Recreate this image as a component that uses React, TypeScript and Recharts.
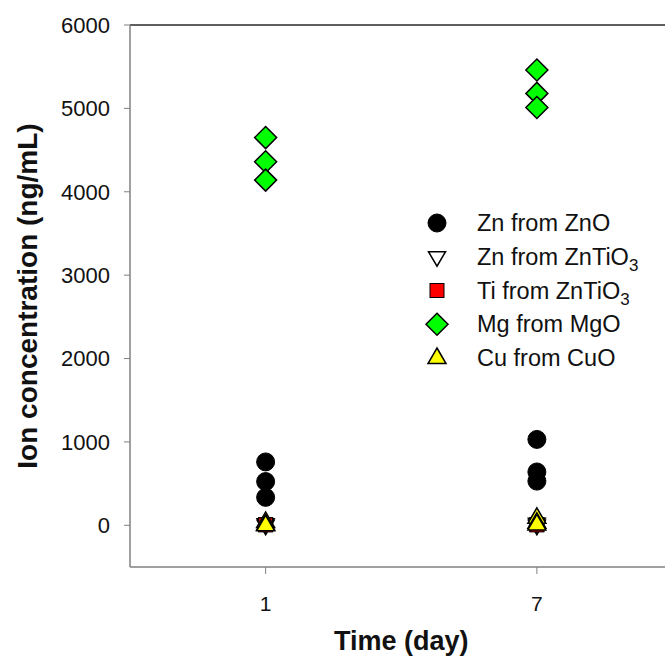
import React from 'react';
import { ScatterChart, Scatter, XAxis, YAxis, ReferenceLine, Legend } from 'recharts';

// ---- data ----
const days = [1, 7];
const yTicks = [0, 1000, 2000, 3000, 4000, 5000, 6000];

const znFromZnO_day1 = [760, 525, 335];
const znFromZnO_day7 = [1030, 640, 530];

const znFromZnTiO3_day1 = [0, 20];
const znFromZnTiO3_day7 = [0, 25];

const tiFromZnTiO3_day1 = [10, 5];
const tiFromZnTiO3_day7 = [10, 5];

const mgFromMgO_day1 = [4650, 4360, 4140];
const mgFromMgO_day7 = [5460, 5180, 5010];

const cuFromCuO_day1 = [40, 10, 0];
const cuFromCuO_day7 = [90, 30, 10];

const seriesNames = ['Zn from ZnO', 'Zn from ZnTiO3', 'Ti from ZnTiO3', 'Mg from MgO', 'Cu from CuO'];

const toPoints = (d1: number[], d7: number[]) => [
  ...d1.map((v) => ({ x: days[0], y: v })),
  ...d7.map((v) => ({ x: days[1], y: v })),
];

const FONT = '"Liberation Sans", Arial, sans-serif';

// ---- symbols ----
const Circle = ({ cx, cy }: any) => <circle cx={cx} cy={cy} r={9} fill="#000" stroke="#000" strokeWidth={1} />;
const TriDown = ({ cx, cy }: any) => (
  <polygon
    points={`${cx - 8.5},${cy - 5} ${cx + 8.5},${cy - 5} ${cx},${cy + 9.5}`}
    fill="#fff"
    stroke="#000"
    strokeWidth={1.5}
  />
);
const Square = ({ cx, cy }: any) => (
  <rect x={cx - 7} y={cy - 7} width={14} height={14} fill="#ff0000" stroke="#000" strokeWidth={1} />
);
const Diamond = ({ cx, cy }: any) => (
  <polygon
    points={`${cx},${cy - 11} ${cx + 11},${cy} ${cx},${cy + 11} ${cx - 11},${cy}`}
    fill="#00ff00"
    stroke="#000"
    strokeWidth={1.5}
  />
);
const TriUp = ({ cx, cy }: any) => (
  <polygon
    points={`${cx},${cy - 10} ${cx + 9},${cy + 5.5} ${cx - 9},${cy + 5.5}`}
    fill="#ffff00"
    stroke="#000"
    strokeWidth={1.5}
  />
);

const shapes: Record<string, any> = {
  'Zn from ZnO': Circle,
  'Zn from ZnTiO3': TriDown,
  'Ti from ZnTiO3': Square,
  'Mg from MgO': Diamond,
  'Cu from CuO': TriUp,
};

const renderName = (name: string) => {
  if (name.endsWith('TiO3')) {
    return (
      <>
        {name.slice(0, -1)}
        <tspan dy={6} fontSize={17}>
          3
        </tspan>
      </>
    );
  }
  return name;
};

const LegendContent = (props: any) => {
  const payload = [...(props.payload || [])].sort(
    (a: any, b: any) => seriesNames.indexOf(a.value) - seriesNames.indexOf(b.value)
  );
  const rowH = 33.75;
  return (
    <svg width={240} height={180} style={{ display: 'block' }}>
      {payload.map((entry: any, i: number) => {
        const name = entry.value as string;
        const Shape = shapes[name];
        const cy = 23 + i * rowH;
        return (
          <g key={name}>
            <Shape cx={17} cy={cy} />
            <text x={57} y={cy + 8} fontFamily={FONT} fontSize={23.5} fill="#111">
              {renderName(name)}
            </text>
          </g>
        );
      })}
    </svg>
  );
};

const YTitle = (props: any) => {
  const vb = props.viewBox || { x: 0, y: 0, width: 0, height: 0 };
  const x = vb.x + 27;
  const y = vb.y + vb.height / 2;
  return (
    <text
      x={x}
      y={y}
      transform={`rotate(-90, ${x}, ${y})`}
      textAnchor="middle"
      dy={10}
      fontFamily={FONT}
      fontWeight="bold"
      fontSize={28}
      fill="#111"
    >
      Ion concentration (ng/mL)
    </text>
  );
};

const XTitle = (props: any) => {
  const vb = props.viewBox || { x: 0, y: 0, width: 0, height: 0 };
  return (
    <text
      x={vb.x + vb.width / 2}
      y={vb.y + vb.height - 10}
      textAnchor="middle"
      fontFamily={FONT}
      fontWeight="bold"
      fontSize={27}
      fill="#111"
    >
      Time (day)
    </text>
  );
};

export default function App() {
  const series = [
    toPoints(znFromZnO_day1, znFromZnO_day7),
    toPoints(znFromZnTiO3_day1, znFromZnTiO3_day7),
    toPoints(tiFromZnTiO3_day1, tiFromZnTiO3_day7),
    toPoints(mgFromMgO_day1, mgFromMgO_day7),
    toPoints(cuFromCuO_day1, cuFromCuO_day7),
  ];
  return (
    <div
      style={{
        position: 'fixed',
        left: 0,
        top: 0,
        width: 665,
        height: 660,
        overflow: 'hidden',
        background: '#fff',
      }}
    >
      <ScatterChart width={690} height={660} margin={{ top: 25, right: 17.5, bottom: 0, left: 0 }}>
        <XAxis
          type="number"
          dataKey="x"
          domain={[-2, 10]}
          ticks={days}
          allowDataOverflow
          height={93}
          axisLine={{ stroke: '#808080', strokeWidth: 1.5 }}
          tickLine={{ stroke: '#808080', strokeWidth: 1 }}
          tickSize={7}
          tickMargin={22}
          tick={{ fontFamily: FONT, fontSize: 21, fill: '#111' }}
          label={{ content: XTitle }}
        />
        <YAxis
          type="number"
          dataKey="y"
          domain={[-500, 6000]}
          ticks={yTicks}
          allowDataOverflow
          width={130}
          axisLine={{ stroke: '#808080', strokeWidth: 1.5 }}
          tickLine={{ stroke: '#808080', strokeWidth: 1 }}
          tickSize={6}
          tickMargin={14}
          tick={{ fontFamily: FONT, fontSize: 22, fill: '#111' }}
          label={{ content: YTitle }}
        />
        <ReferenceLine y={6000} stroke="#2a2a2a" strokeWidth={1.5} ifOverflow="visible" />
        {series.map((data, i) => (
          <Scatter
            key={seriesNames[i]}
            name={seriesNames[i]}
            data={data}
            shape={shapes[seriesNames[i]]}
            isAnimationActive={false}
          />
        ))}
        <Legend
          layout="vertical"
          align="center"
          verticalAlign="middle"
          content={LegendContent}
          wrapperStyle={{ left: 420, top: 200, width: 240, height: 180 }}
        />
      </ScatterChart>
    </div>
  );
}
